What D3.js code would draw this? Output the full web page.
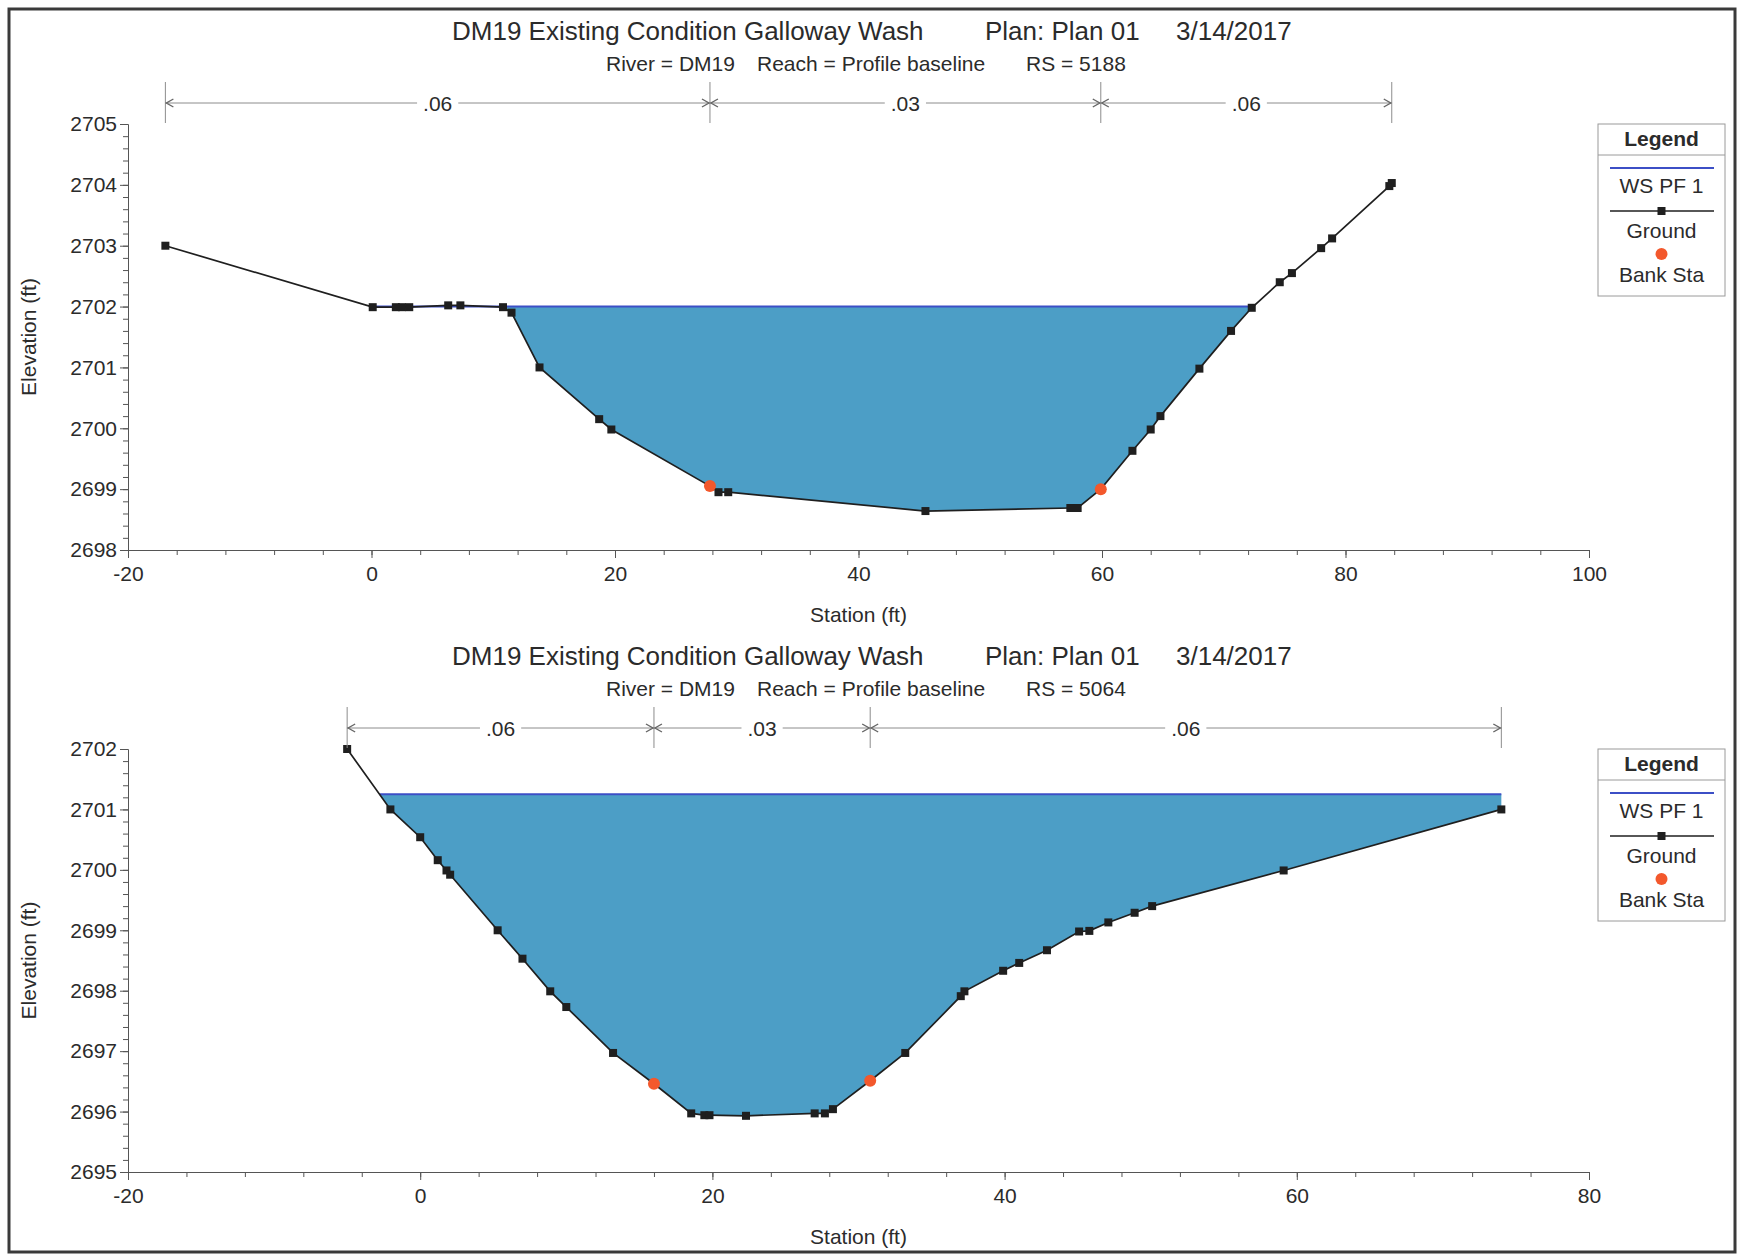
<!DOCTYPE html>
<html><head><meta charset="utf-8">
<script src="https://cdn.jsdelivr.net/npm/d3@7"></script>
<style>
body{margin:0;background:#fff}
svg{display:block}
text{font-family:"Liberation Sans",Arial,Helvetica,sans-serif;fill:#2b2b2b}
</style>
</head><body>
<svg id="chart" width="1746" height="1255"></svg>
<script>
// ---------- text ----------
const titleMain = "DM19 Existing Condition Galloway Wash";
const titlePlan = "Plan: Plan 01";
const titleDate = "3/14/2017";
const riverLabel = "River = DM19";
const reachLabel = "Reach = Profile baseline";
const rsLabels = ["RS = 5188", "RS = 5064"];
const xAxisTitle = "Station (ft)";
const yAxisTitle = "Elevation (ft)";
const legendTitle = "Legend";
const legendItems = ["WS PF 1", "Ground", "Bank Sta"];

// ---------- RS 5188 ----------
const sta5188 = [-16.93, 0.1, 2.0, 2.5, 3.1, 6.3, 7.3, 10.8, 11.5, 13.8, 18.7, 19.7, 27.8, 28.5, 29.3, 45.5, 57.4, 58.0, 59.9, 62.5, 64.0, 64.8, 68.0, 70.6, 72.3, 74.6, 75.6, 78.0, 78.9, 83.6, 83.8];
const elev5188 = [2703.0, 2701.99, 2701.99, 2701.99, 2701.99, 2702.02, 2702.02, 2701.99, 2701.9, 2701.0, 2700.15, 2699.98, 2699.05, 2698.95, 2698.95, 2698.64, 2698.69, 2698.69, 2699.0, 2699.63, 2699.98, 2700.2, 2700.98, 2701.6, 2701.98, 2702.4, 2702.55, 2702.96, 2703.12, 2703.98, 2704.03];
const bank5188 = [27.8, 59.9];
const ws5188 = 2702.0;
const nVals5188 = [".06", ".03", ".06"];
const xTicks5188 = [-20, 0, 20, 40, 60, 80, 100];
const yTicks5188 = [2698, 2699, 2700, 2701, 2702, 2703, 2704, 2705];

// ---------- RS 5064 ----------
const sta5064 = [-5.0, -2.04, 0.0, 1.2, 1.8, 2.05, 5.3, 7.0, 8.9, 10.0, 13.2, 16.0, 18.55, 19.45, 19.8, 22.3, 27.0, 27.7, 28.25, 30.8, 33.2, 37.0, 37.25, 39.9, 41.0, 42.9, 45.1, 45.8, 47.1, 48.9, 50.1, 59.1, 74.0];
const elev5064 = [2702.0, 2701.0, 2700.54, 2700.16, 2699.99, 2699.92, 2699.0, 2698.53, 2697.99, 2697.73, 2696.97, 2696.46, 2695.97, 2695.94, 2695.94, 2695.93, 2695.97, 2695.97, 2696.04, 2696.51, 2696.97, 2697.91, 2697.99, 2698.33, 2698.46, 2698.67, 2698.98, 2698.99, 2699.13, 2699.29, 2699.40, 2699.99, 2701.0];
const bank5064 = [16.0, 30.8];
const ws5064 = 2701.25;
const nVals5064 = [".06", ".03", ".06"];
const xTicks5064 = [-20, 0, 20, 40, 60, 80];
const yTicks5064 = [2695, 2696, 2697, 2698, 2699, 2700, 2701, 2702];

// ---------- styling ----------
const C = {
  water: "#4c9ec6", ws: "#3c4fc6", ground: "#1f1f1f", bank: "#f3582c",
  axis: "#555", text: "#2b2b2b", nline: "#8c8c8c", frame: "#3a3a3a", legendBox: "#9a9a9a"
};
const fmt = d => String(d);

const svg = d3.select("#chart");
svg.append("rect").attr("x", 9).attr("y", 9).attr("width", 1726).attr("height", 1243)
  .attr("fill", "none").attr("stroke", C.frame).attr("stroke-width", 3);

const panels = [
  {sta: sta5188, elev: elev5188, bank: bank5188, ws: ws5188, nVals: nVals5188, rs: rsLabels[0],
   xDom: [-20, 100], yDom: [2698, 2705], xTicks: xTicks5188, yTicks: yTicks5188,
   left: 128, right: 1589, top: 124, bottom: 550},
  {sta: sta5064, elev: elev5064, bank: bank5064, ws: ws5064, nVals: nVals5064, rs: rsLabels[1],
   xDom: [-20, 80], yDom: [2695, 2702], xTicks: xTicks5064, yTicks: yTicks5064,
   left: 128, right: 1589, top: 749, bottom: 1172}
];

function interp(sta, elev, s) {
  for (let i = 0; i < sta.length - 1; i++) {
    if (s >= sta[i] && s <= sta[i + 1]) {
      const t = (s - sta[i]) / (sta[i + 1] - sta[i]);
      return elev[i] + t * (elev[i + 1] - elev[i]);
    }
  }
  return elev[elev.length - 1];
}

function styleAxis(g) {
  g.select(".domain").attr("stroke", C.axis).attr("stroke-width", 1);
  g.selectAll(".tick line").attr("stroke", C.axis).attr("stroke-width", 1);
  g.selectAll(".tick text").attr("font-size", 21).attr("fill", C.text)
    .attr("font-family", '"Liberation Sans",Arial,sans-serif');
  g.attr("font-family", null).attr("font-size", null);
}

panels.forEach(p => {
  const g = svg.append("g");
  const x = d3.scaleLinear().domain(p.xDom).range([p.left, p.right]);
  const y = d3.scaleLinear().domain(p.yDom).range([p.bottom, p.top]);
  const pts = p.sta.map((s, i) => ({s, e: p.elev[i]}));

  // titles
  const t = g.append("text").attr("y", p.top - 84).attr("font-size", 26);
  t.append("tspan").attr("x", 452).text(titleMain);
  t.append("tspan").attr("x", 985).text(titlePlan);
  t.append("tspan").attr("x", 1176).text(titleDate);
  const st = g.append("text").attr("y", p.top - 53).attr("font-size", 21);
  st.append("tspan").attr("x", 606).text(riverLabel);
  st.append("tspan").attr("x", 757).text(reachLabel);
  st.append("tspan").attr("x", 1026).text(p.rs);

  // water fill
  const wet = [];
  for (let i = 0; i < pts.length; i++) {
    wet.push(pts[i]);
    if (i < pts.length - 1) {
      const a = pts[i], b = pts[i + 1];
      if ((a.e - p.ws) * (b.e - p.ws) < 0) {
        const tt = (p.ws - a.e) / (b.e - a.e);
        wet.push({s: a.s + tt * (b.s - a.s), e: p.ws});
      }
    }
  }
  const area = d3.area().x(d => x(d.s)).y0(y(p.ws)).y1(d => y(Math.min(d.e, p.ws)));
  g.append("path").datum(wet).attr("d", area).attr("fill", C.water).attr("stroke", "none");
  const wetOnly = wet.filter(d => d.e <= p.ws);
  const wsX0 = d3.min(wetOnly, d => d.s), wsX1 = d3.max(wetOnly, d => d.s);
  g.append("line").attr("x1", x(wsX0)).attr("x2", x(wsX1)).attr("y1", y(p.ws)).attr("y2", y(p.ws))
    .attr("stroke", C.ws).attr("stroke-width", 2);

  // ground
  const line = d3.line().x(d => x(d.s)).y(d => y(d.e));
  g.append("path").datum(pts).attr("d", line).attr("fill", "none")
    .attr("stroke", C.ground).attr("stroke-width", 1.7);
  g.selectAll("rect.gp").data(pts).join("rect").attr("class", "gp")
    .attr("x", d => x(d.s) - 4).attr("y", d => y(d.e) - 4).attr("width", 8).attr("height", 8)
    .attr("fill", C.ground);
  g.selectAll("circle.bk").data(p.bank).join("circle").attr("class", "bk")
    .attr("cx", d => x(d)).attr("cy", d => y(interp(p.sta, p.elev, d))).attr("r", 6)
    .attr("fill", C.bank);

  // axes
  const yMinor = d3.range(p.yDom[0], p.yDom[1] + 1e-9, 0.2);
  const xMinor = d3.range(p.xDom[0], p.xDom[1] + 1e-9, 4);
  g.append("g").attr("transform", `translate(${p.left},0)`)
    .call(d3.axisLeft(y).tickValues(yMinor).tickSize(5).tickSizeOuter(0).tickFormat(""))
    .call(styleAxis);
  g.append("g").attr("transform", `translate(${p.left},0)`)
    .call(d3.axisLeft(y).tickValues(p.yTicks).tickSize(8).tickSizeOuter(0).tickPadding(3).tickFormat(fmt))
    .call(styleAxis);
  g.append("g").attr("transform", `translate(0,${p.bottom})`)
    .call(d3.axisBottom(x).tickValues(xMinor).tickSize(5).tickSizeOuter(0).tickFormat(""))
    .call(styleAxis);
  g.append("g").attr("transform", `translate(0,${p.bottom})`)
    .call(d3.axisBottom(x).tickValues(p.xTicks).tickSize(8).tickSizeOuter(0).tickPadding(8).tickFormat(fmt))
    .call(styleAxis);

  // axis titles
  g.append("text").attr("x", (p.left + p.right) / 2).attr("y", p.bottom + 72)
    .attr("text-anchor", "middle").attr("font-size", 21).text(xAxisTitle);
  g.append("text").attr("transform", `translate(36,${(p.top + p.bottom) / 2}) rotate(-90)`)
    .attr("text-anchor", "middle").attr("font-size", 21).text(yAxisTitle);

  // Manning n bar
  const bounds = [p.sta[0], p.bank[0], p.bank[1], p.sta[p.sta.length - 1]];
  const ny = p.top - 21;
  const ng = g.append("g");
  bounds.forEach(b => {
    ng.append("line").attr("x1", x(b)).attr("x2", x(b)).attr("y1", p.top - 42).attr("y2", p.top - 1)
      .attr("stroke", C.nline).attr("stroke-width", 1);
  });
  p.nVals.forEach((v, i) => {
    const xa = x(bounds[i]), xb = x(bounds[i + 1]);
    ng.append("line").attr("x1", xa).attr("x2", xb).attr("y1", ny).attr("y2", ny)
      .attr("stroke", C.nline).attr("stroke-width", 1);
    ng.append("path").attr("d", `M${xa + 8},${ny - 4}L${xa + 1},${ny}L${xa + 8},${ny + 4}`)
      .attr("fill", "none").attr("stroke", "#666").attr("stroke-width", 1.4);
    ng.append("path").attr("d", `M${xb - 8},${ny - 4}L${xb - 1},${ny}L${xb - 8},${ny + 4}`)
      .attr("fill", "none").attr("stroke", "#666").attr("stroke-width", 1.4);
    const tx = ng.append("text").attr("x", (xa + xb) / 2).attr("y", ny + 8)
      .attr("text-anchor", "middle").attr("font-size", 21).text(v);
    const bb = tx.node().getBBox();
    ng.insert("rect", () => tx.node()).attr("x", bb.x - 6).attr("y", ny - 3).attr("width", bb.width + 12)
      .attr("height", 6).attr("fill", "#fff");
  });

  // legend
  const lx0 = 1598, lx1 = 1725, lt = p.top, lc = (lx0 + lx1) / 2;
  const lg = g.append("g");
  lg.append("rect").attr("x", lx0).attr("y", lt).attr("width", lx1 - lx0).attr("height", 172)
    .attr("fill", "#fff").attr("stroke", C.legendBox).attr("stroke-width", 1);
  lg.append("text").attr("x", lc).attr("y", lt + 22).attr("text-anchor", "middle")
    .attr("font-size", 21).attr("font-weight", "bold").text(legendTitle);
  lg.append("line").attr("x1", lx0).attr("x2", lx1).attr("y1", lt + 31).attr("y2", lt + 31)
    .attr("stroke", C.legendBox);
  lg.append("line").attr("x1", 1610).attr("x2", 1714).attr("y1", lt + 44).attr("y2", lt + 44)
    .attr("stroke", C.ws).attr("stroke-width", 2);
  lg.append("text").attr("x", lc).attr("y", lt + 69).attr("text-anchor", "middle")
    .attr("font-size", 21).text(legendItems[0]);
  lg.append("line").attr("x1", 1610).attr("x2", 1714).attr("y1", lt + 87).attr("y2", lt + 87)
    .attr("stroke", C.ground).attr("stroke-width", 1.4);
  lg.append("rect").attr("x", lc - 4).attr("y", lt + 83).attr("width", 8).attr("height", 8)
    .attr("fill", C.ground);
  lg.append("text").attr("x", lc).attr("y", lt + 114).attr("text-anchor", "middle")
    .attr("font-size", 21).text(legendItems[1]);
  lg.append("circle").attr("cx", lc).attr("cy", lt + 130).attr("r", 6).attr("fill", C.bank);
  lg.append("text").attr("x", lc).attr("y", lt + 158).attr("text-anchor", "middle")
    .attr("font-size", 21).text(legendItems[2]);
});
</script>
</body></html>
